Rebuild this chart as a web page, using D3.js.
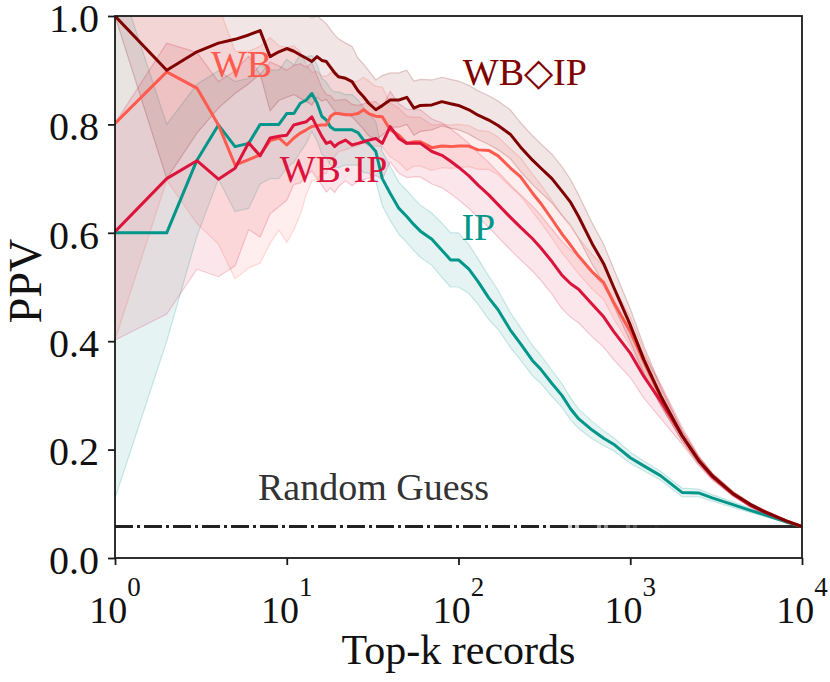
<!DOCTYPE html>
<html>
<head>
<meta charset="utf-8">
<script src="https://cdn.jsdelivr.net/npm/d3@7.9.0/dist/d3.min.js"></script>
<style>
  html, body { margin: 0; padding: 0; background: #fff; }
  svg text { font-family: "Liberation Serif", "Times New Roman", serif; }
</style>
</head>
<body>
<svg id="chart" width="830" height="682"></svg>
<script>
// top-k cut-offs (shared x values)
const topK = [1,2,3,4,5,6,7,8,9,10,
  11,12,13,14,15,16,17,18,19,20,
  22,24,26,28,30,33,36,40,45,50,
  55,60,70,80,90,100,115,130,150,170,
  200,230,270,300,350,400,450,500,600,700,
  800,1000,1200,1500,2000,2500,3000,4000,5000,6000,
  8000,10000];

// mean PPV per method
const wbDiamondIp = [1.000,0.900,0.934,0.950,0.957,0.965,0.973,0.925,0.934,0.940,
  0.935,0.928,0.922,0.916,0.925,0.918,0.916,0.905,0.895,0.888,
  0.885,0.879,0.862,0.851,0.839,0.827,0.835,0.845,0.845,0.850,
  0.830,0.835,0.836,0.842,0.838,0.835,0.827,0.817,0.808,0.798,
  0.782,0.758,0.734,0.720,0.700,0.677,0.656,0.630,0.580,0.543,
  0.500,0.430,0.366,0.300,0.226,0.180,0.152,0.118,0.099,0.086,
  0.069,0.058];
const wb = [0.802,0.897,0.867,0.799,0.725,0.735,0.744,0.770,0.775,0.762,
  0.775,0.784,0.790,0.796,0.798,0.799,0.799,0.815,0.820,0.820,
  0.818,0.818,0.820,0.827,0.820,0.815,0.814,0.790,0.780,0.765,
  0.768,0.768,0.757,0.760,0.759,0.760,0.760,0.753,0.752,0.742,
  0.720,0.703,0.673,0.655,0.625,0.598,0.577,0.557,0.528,0.508,
  0.472,0.418,0.362,0.298,0.226,0.181,0.151,0.118,0.098,0.086,
  0.069,0.058];
const wbDotIp = [0.602,0.700,0.733,0.699,0.719,0.766,0.742,0.775,0.778,0.780,
  0.799,0.802,0.805,0.814,0.795,0.778,0.765,0.768,0.759,0.765,
  0.771,0.762,0.765,0.768,0.771,0.774,0.765,0.796,0.774,0.765,
  0.765,0.765,0.750,0.743,0.732,0.721,0.705,0.688,0.670,0.652,
  0.629,0.610,0.589,0.573,0.547,0.522,0.506,0.496,0.468,0.445,
  0.418,0.378,0.335,0.290,0.226,0.180,0.150,0.117,0.097,0.085,
  0.069,0.058];
const ip = [0.600,0.600,0.734,0.799,0.759,0.765,0.800,0.800,0.800,0.820,
  0.820,0.839,0.845,0.857,0.840,0.815,0.808,0.795,0.790,0.790,
  0.790,0.790,0.785,0.771,0.765,0.750,0.700,0.673,0.645,0.630,
  0.615,0.603,0.588,0.568,0.550,0.550,0.533,0.510,0.480,0.458,
  0.421,0.395,0.364,0.349,0.322,0.300,0.275,0.257,0.236,0.221,
  0.210,0.185,0.170,0.152,0.121,0.120,0.111,0.098,0.088,0.080,
  0.067,0.058];

// spread (std) around each mean
const wbDiamondIpStd = [0.000,0.200,0.150,0.120,0.100,0.090,0.080,0.100,0.090,0.090,
  0.080,0.080,0.080,0.080,0.075,0.075,0.070,0.070,0.070,0.070,
  0.065,0.065,0.060,0.060,0.060,0.055,0.055,0.050,0.050,0.050,
  0.050,0.048,0.046,0.045,0.045,0.045,0.045,0.045,0.045,0.045,
  0.045,0.045,0.045,0.045,0.045,0.045,0.042,0.040,0.038,0.036,
  0.034,0.030,0.025,0.018,0.010,0.007,0.005,0.004,0.003,0.003,
  0.002,0.000];
const wbStd = [0.400,0.200,0.250,0.220,0.210,0.200,0.200,0.190,0.170,0.180,
  0.170,0.150,0.120,0.100,0.100,0.090,0.090,0.080,0.080,0.070,
  0.065,0.060,0.060,0.060,0.060,0.055,0.055,0.050,0.050,0.050,
  0.045,0.045,0.042,0.040,0.040,0.040,0.038,0.036,0.035,0.035,
  0.035,0.035,0.035,0.035,0.035,0.035,0.034,0.033,0.032,0.031,
  0.030,0.027,0.022,0.016,0.009,0.006,0.005,0.004,0.003,0.003,
  0.002,0.000];
const wbDotIpStd = [0.200,0.250,0.200,0.180,0.180,0.160,0.150,0.140,0.130,0.120,
  0.110,0.110,0.100,0.100,0.095,0.090,0.090,0.085,0.085,0.080,
  0.075,0.075,0.070,0.070,0.070,0.068,0.066,0.065,0.064,0.063,
  0.062,0.062,0.060,0.060,0.060,0.060,0.060,0.060,0.060,0.060,
  0.060,0.060,0.060,0.060,0.060,0.062,0.062,0.062,0.060,0.056,
  0.052,0.045,0.040,0.032,0.016,0.009,0.006,0.004,0.003,0.003,
  0.002,0.000];
const ipStd = [0.490,0.200,0.140,0.100,0.120,0.120,0.110,0.100,0.100,0.100,
  0.090,0.090,0.080,0.070,0.070,0.070,0.070,0.070,0.070,0.070,
  0.065,0.065,0.060,0.060,0.055,0.055,0.050,0.050,0.048,0.048,
  0.048,0.048,0.048,0.050,0.050,0.050,0.045,0.042,0.040,0.036,
  0.032,0.030,0.028,0.026,0.024,0.022,0.020,0.018,0.016,0.014,
  0.012,0.010,0.009,0.008,0.008,0.007,0.006,0.005,0.004,0.003,
  0.002,0.000];

const randomGuess = 0.058;
const yTicks = [0, 0.2, 0.4, 0.6, 0.8, 1.0];
const xTicks = [1, 10, 100, 1000, 10000];

const series = [
  { name: 'IP', mean: ip, std: ipStd, color: '#00968a' },
  { name: 'WB', mean: wb, std: wbStd, color: '#ff5a4e' },
  { name: 'WB·IP', mean: wbDotIp, std: wbDotIpStd, color: '#dc143c' },
  { name: 'WB◇IP', mean: wbDiamondIp, std: wbDiamondIpStd, color: '#800000' },
];

// label anchors in data units (k, ppv)
const labels = [
  { text: 'WB◇IP', k: 106, v: 0.873, color: '#800000' },
  { text: 'WB', k: 3.62, v: 0.887, color: '#ff5a4e' },
  { text: 'WB·IP', k: 9.1, v: 0.694, color: '#dc143c' },
  { text: 'IP', k: 104, v: 0.587, color: '#00968a' },
  { text: 'Random Guess', k: 6.8, v: 0.107, color: '#333' },
];

const margin = { left: 115, right: 28, top: 16, bottom: 124 };
const width = 830, height = 682;

const svg = d3.select('#chart');
let x = d3.scaleLog().domain([1, 1e4]).range([margin.left, width - margin.right]);
let y = d3.scaleLinear().domain([0, 1]).range([height - margin.bottom, margin.top]);

svg.append('defs').append('clipPath').attr('id', 'plot-clip')
  .append('rect')
  .attr('x', margin.left).attr('y', margin.top)
  .attr('width', x.range()[1] - margin.left)
  .attr('height', y.range()[0] - margin.top);

const plot = svg.append('g').attr('clip-path', 'url(#plot-clip)');

let area = d3.area()
  .x((d) => x(d.k))
  .y0((d) => y(d.m - d.s))
  .y1((d) => y(d.m + d.s));
let line = d3.line()
  .x((d) => x(d.k))
  .y((d) => y(d.m));

series.forEach((s) => {
  let pts = topK.map((k, i) => ({ k: k, m: s.mean[i], s: s.std[i] }));
  plot.append('path')
    .attr('d', area(pts))
    .attr('fill', s.color)
    .attr('fill-opacity', 0.1)
    .attr('stroke', s.color)
    .attr('stroke-opacity', 0.2)
    .attr('stroke-width', 1.2);
});

// random guess baseline
const grad = svg.select('defs').append('linearGradient')
  .attr('id', 'rg-fade').attr('gradientUnits', 'userSpaceOnUse')
  .attr('x1', x(300)).attr('x2', x(1500)).attr('y1', 0).attr('y2', 0);
grad.append('stop').attr('offset', 0).attr('stop-color', '#2a2a2a').attr('stop-opacity', 0);
grad.append('stop').attr('offset', 1).attr('stop-color', '#2a2a2a').attr('stop-opacity', 1);

plot.append('line')
  .attr('x1', x(1)).attr('x2', x(1e4))
  .attr('y1', y(randomGuess)).attr('y2', y(randomGuess))
  .attr('stroke', '#222').attr('stroke-width', 3)
  .attr('stroke-dasharray', '18,4,3,4');
plot.append('line')
  .attr('x1', x(300)).attr('x2', x(1e4))
  .attr('y1', y(randomGuess)).attr('y2', y(randomGuess))
  .attr('stroke', 'url(#rg-fade)').attr('stroke-width', 3);

series.forEach((s) => {
  let pts = topK.map((k, i) => ({ k: k, m: s.mean[i] }));
  plot.append('path')
    .attr('d', line(pts))
    .attr('fill', 'none')
    .attr('stroke', s.color)
    .attr('stroke-width', 3)
    .attr('stroke-linejoin', 'round');
});

// frame
svg.append('rect')
  .attr('x', margin.left).attr('y', margin.top)
  .attr('width', x.range()[1] - margin.left)
  .attr('height', y.range()[0] - margin.top)
  .attr('fill', 'none').attr('stroke', '#1a1a1a').attr('stroke-width', 1.8);

// y axis
let yAxis = svg.append('g')
  .attr('transform', `translate(${margin.left},0)`)
  .call(d3.axisLeft(y).tickValues(yTicks).tickFormat(d3.format('.1f')).tickSize(7).tickPadding(9));
yAxis.select('.domain').remove();
yAxis.selectAll('line').attr('stroke', '#1a1a1a').attr('stroke-width', 1.8);
yAxis.selectAll('text')
  .attr('font-size', 40).attr('fill', '#111')
  .attr('font-family', '"Liberation Serif", serif')
  .attr('dy', '0.38em');

// x axis with 10^n labels
let xAxis = svg.append('g')
  .attr('transform', `translate(0,${y.range()[0]})`)
  .call(d3.axisBottom(x).tickValues(xTicks).tickFormat('').tickSize(7));
xAxis.select('.domain').remove();
xAxis.selectAll('line').attr('stroke', '#1a1a1a').attr('stroke-width', 1.8);
xTicks.forEach((t) => {
  let txt = svg.append('text')
    .attr('x', x(t)).attr('y', 623)
    .attr('text-anchor', 'middle')
    .attr('font-size', 38).attr('fill', '#111');
  txt.append('tspan').text('10');
  txt.append('tspan').attr('dy', -27).attr('font-size', 27).text(Math.round(Math.log10(t)));
});

svg.append('text')
  .attr('x', (margin.left + x.range()[1]) / 2).attr('y', 664)
  .attr('text-anchor', 'middle').attr('font-size', 42).attr('fill', '#111')
  .text('Top-k records');

svg.append('text')
  .attr('transform', `translate(41,${(margin.top + y.range()[0]) / 2 - 6}) rotate(-90)`)
  .attr('text-anchor', 'middle').attr('font-size', 46).attr('fill', '#111')
  .text('PPV');

labels.forEach((l) => {
  svg.append('text')
    .attr('x', x(l.k)).attr('y', y(l.v))
    .attr('font-size', 38).attr('fill', l.color)
    .text(l.text);
});
</script>
</body>
</html>
